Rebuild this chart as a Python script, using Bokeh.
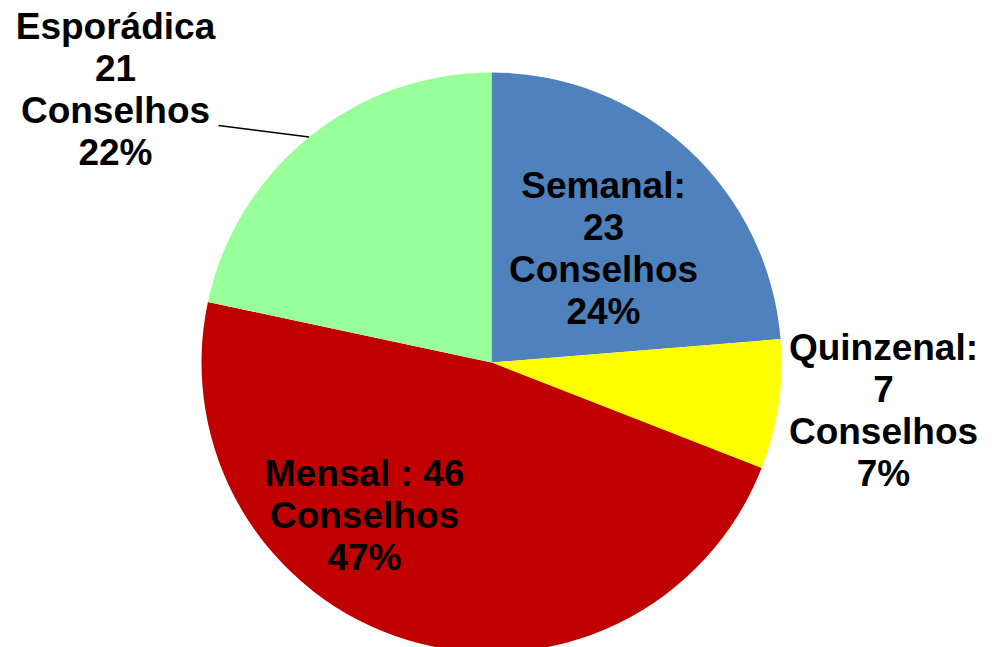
import numpy as np
from bokeh.plotting import figure
from bokeh.models import Range1d
from bokeh.core.properties import value
from bokeh.embed import file_html
from bokeh.resources import INLINE

# ---- data ----
categories = ["Semanal", "Quinzenal", "Mensal", "Esporádica"]
counts = [23, 7, 46, 21]
percents = ["24%", "7%", "47%", "22%"]
label_texts = [
    "Semanal:\n23\nConselhos\n24%",
    "Quinzenal:\n7\nConselhos\n7%",
    "Mensal : 46\nConselhos\n47%",
    "Esporádica\n21\nConselhos\n22%",
]
colors = ["#4F81BD", "#FFFF00", "#C00000", "#99FF99"]

# ---- layout ----
W, H = 997, 647
CX, CY, R = 491, 285, 290
label_x = [603, 883, 364, 115]
label_y = [399, 237, 132, 558]
leader_start = (218, 522)

total = float(sum(counts))
cum = np.concatenate([[0.0], np.cumsum(counts)])
start_deg = 90 - cum[:-1] / total * 360
end_deg = 90 - cum[1:] / total * 360
start_rad = np.deg2rad(start_deg)
end_rad = np.deg2rad(end_deg)

p = figure(width=W, height=H, output_backend="svg", toolbar_location=None,
           x_range=Range1d(0, W), y_range=Range1d(0, H), min_border=0)
p.axis.visible = False
p.grid.visible = False
p.outline_line_color = None
p.background_fill_color = "white"

p.wedge(x=[CX] * 4, y=[CY] * 4, radius=R, radius_units="data",
        start_angle=list(end_rad), end_angle=list(start_rad),
        direction="anticlock", fill_color=colors, line_color=None)

# leader line for Esporádica (to slice edge at mid-angle)
mid = np.deg2rad((start_deg[3] + end_deg[3]) / 2)
ex, ey = CX + R * np.cos(mid), CY + R * np.sin(mid)
p.line([leader_start[0], ex], [leader_start[1], ey], line_color="black", line_width=1.5)

p.text(x=label_x, y=label_y, text=label_texts,
       text_font=value("Liberation Sans"), text_font_style="bold",
       text_font_size="37px", text_align="center", text_baseline="middle",
       text_line_height=1.03, text_color="black")

open("out.html", "w").write(file_html(p, INLINE))
